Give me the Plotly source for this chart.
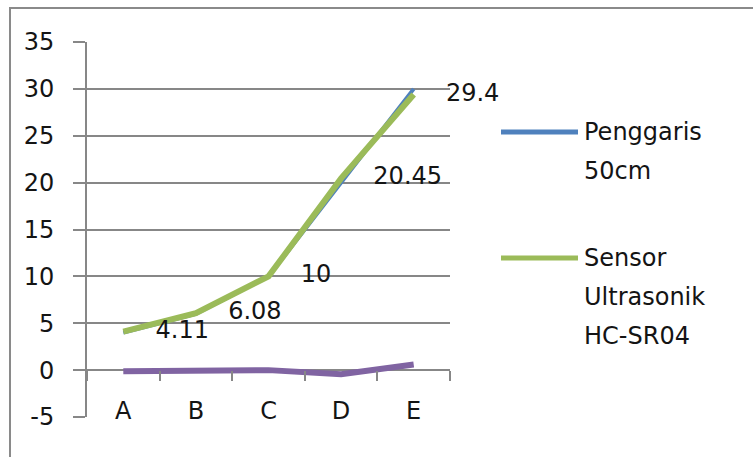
import plotly.graph_objects as go

categories = ["A", "B", "C", "D", "E"]
penggaris = [4, 6, 10, 20, 30]
sensor = [4.11, 6.08, 10, 20.45, 29.4]
selisih = [-0.11, -0.08, 0, -0.45, 0.6]
names = ["Penggaris 50cm", "Sensor Ultrasonik HC-SR04"]
y_ticks = [-5, 0, 5, 10, 15, 20, 25, 30, 35]

BLUE = "#4F81BD"
GREEN = "#9BBB59"
PURPLE = "#8064A2"
GRID = "#878787"
TXT = "#141414"
FONT = "DejaVu Sans"
FS = 24

W, H = 753, 457
L, R, T, B = 87, 450, 42, 417  # plot area in px
YMIN, YMAX = -5, 35


def px_x(px):
    return (px - L) / (R - L)


def px_y(py):
    return (B - py) / (B - T)


fig = go.Figure()
fig.add_trace(go.Scatter(x=categories, y=penggaris, mode="lines",
                         line=dict(color=BLUE, width=4), showlegend=False,
                         name=names[0]))
fig.add_trace(go.Scatter(x=categories, y=sensor, mode="lines+markers+text",
                         line=dict(color=GREEN, width=6), showlegend=False,
                         marker=dict(size=50, color="rgba(0,0,0,0)"),
                         text=[f"{v:g}" for v in sensor],
                         textposition="middle right", cliponaxis=False,
                         textfont=dict(family=FONT, size=FS, color=TXT),
                         name=names[1]))
fig.add_trace(go.Scatter(x=categories, y=selisih, mode="lines",
                         line=dict(color=PURPLE, width=6), showlegend=False,
                         name="Selisih"))

shapes = [dict(type="rect", xref="paper", yref="paper",
               x0=px_x(10), x1=px_x(W + 20), y0=px_y(H + 20), y1=px_y(8),
               line=dict(color="#8a8a8a", width=2), layer="below")]
annotations = []
legend_rows = [132, 258]
colors = [BLUE, GREEN]
for name, row, col in zip(names, legend_rows, colors):
    shapes.append(dict(type="line", xref="paper", yref="paper",
                       x0=px_x(501), x1=px_x(578), y0=px_y(row), y1=px_y(row),
                       line=dict(color=col, width=5)))
    for i, part in enumerate(name.split(" ")):
        annotations.append(dict(xref="paper", yref="paper", x=px_x(582),
                                y=px_y(row + i * 39), text=part, showarrow=False,
                                xanchor="left", yanchor="middle",
                                font=dict(family=FONT, size=FS, color=TXT)))

fig.update_layout(
    width=W, height=H,
    margin=dict(l=L, r=W - R, t=T, b=H - B, pad=0),
    paper_bgcolor="white", plot_bgcolor="white",
    shapes=shapes, annotations=annotations,
    showlegend=False,
    xaxis=dict(type="category", range=[-0.5, 4.5], tickson="boundaries",
               ticks="outside", ticklen=10, tickwidth=2, tickcolor=GRID,
               showgrid=False, showline=False, zeroline=False,
               anchor="free", position=(0 - YMIN) / (YMAX - YMIN),
               ticklabelstandoff=24,
               tickfont=dict(family=FONT, size=FS, color=TXT)),
    yaxis=dict(range=[YMIN, YMAX], tickvals=y_ticks,
               ticktext=[str(v) for v in y_ticks], showgrid=True,
               gridcolor=GRID, gridwidth=2, zeroline=False,
               showline=True, linecolor=GRID, linewidth=2,
               ticks="outside", ticklen=12, tickwidth=2, tickcolor=GRID,
               ticklabelstandoff=14,
               tickfont=dict(family=FONT, size=FS, color=TXT)),
)

fig.write_html("out.html")
